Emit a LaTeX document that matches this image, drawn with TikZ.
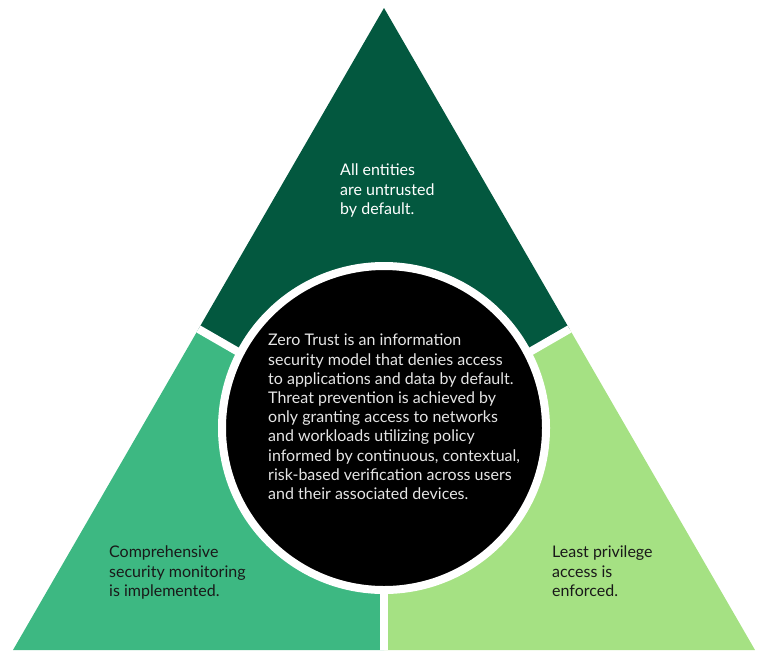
\documentclass[tikz,border=0pt]{standalone}
\usepackage{fontspec}
\setmainfont{Lato}
\definecolor{darkgreen}{HTML}{03583F}
\definecolor{midgreen}{HTML}{3DB882}
\definecolor{lightgreen}{HTML}{A5E183}

\begin{document}
\begin{tikzpicture}[x=1pt,y=-1pt,
    gap/.style={draw=white,line width=8pt},
    label/.style={anchor=north west,inner sep=0pt,align=left,
      font=\fontsize{16}{19.2}\selectfont}]
    \useasboundingbox (0,0) rectangle (775,664);
    % corners, edge midpoints and centre
    \coordinate (apex) at (384,8);
    \coordinate (bl) at (13,650);
    \coordinate (br) at (755,650);
    \coordinate (mleft) at (198.5,329);
    \coordinate (mright) at (569.5,329);
    \coordinate (mbottom) at (384,650);
    \coordinate (centre) at (384,436);
    \fill[darkgreen] (apex) -- (mright) -- (centre) -- (mleft) -- cycle;
    \fill[midgreen] (mleft) -- (centre) -- (mbottom) -- (bl) -- cycle;
    \fill[lightgreen] (mright) -- (br) -- (mbottom) -- (centre) -- cycle;
    \draw[gap] (centre) -- (mleft);
    \draw[gap] (centre) -- (mright);
    \draw[gap] (centre) -- (mbottom);
    \draw[fill=black,draw=white,line width=8pt] (384,428) circle (162);
    \node[label,text=white] (untrusted) at (340,164)
      {All entities\\are untrusted\\by default.};
    \node[label,text=black!90] (monitoring) at (109,546)
      {Comprehensive\\security monitoring\\is implemented.};
    \node[label,text=black!90] (privilege) at (552,546)
      {Least privilege\\access is\\enforced.};
    \node[label,text=white!90!black] (model) at (268,334)
      {Zero Trust is an information\\security model that denies access\\to applications and data by default.\\Threat prevention is achieved by\\only granting access to networks\\and workloads utilizing policy\\informed by continuous, contextual,\\risk-based verification across users\\and their associated devices.};
  \end{tikzpicture}
\end{document}
